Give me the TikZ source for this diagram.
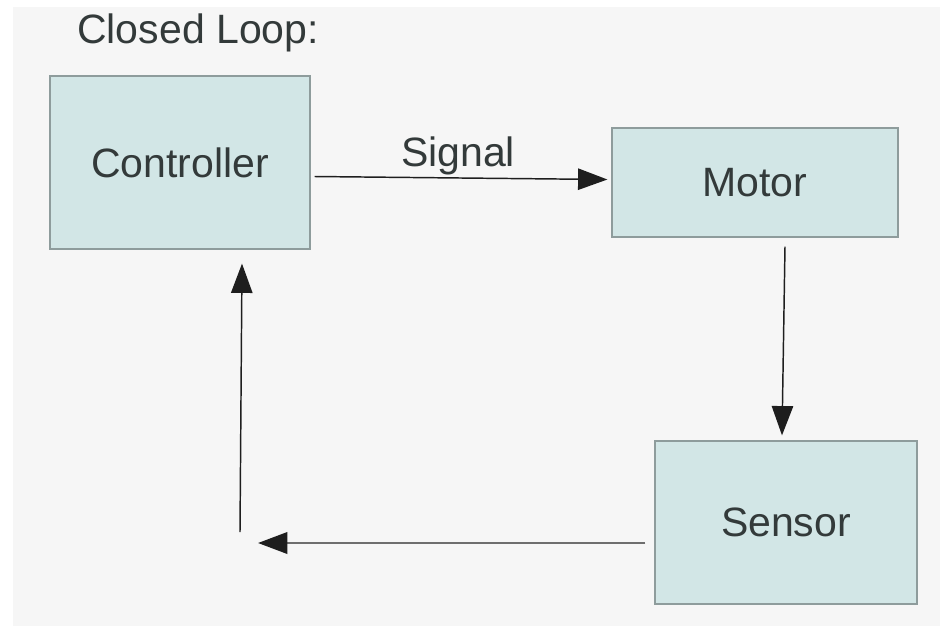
\documentclass[tikz,border=0pt]{standalone}
\usepackage{fontspec}
\setmainfont{Liberation Sans}
\usepackage{xcolor}
\definecolor{boxFill}{HTML}{D2E6E6}
\definecolor{boxLine}{HTML}{8E9C9C}
\definecolor{pageGray}{HTML}{F6F6F6}
\definecolor{darkText}{HTML}{333A3A}
\definecolor{lineDark}{HTML}{1E1E1E}
\definecolor{lineGray}{HTML}{6E6E6E}
\usepackage{tikz}
\usetikzlibrary{
    arrows.meta,
    calc
}
\tikzset{
    % Base style for all labels
    plain base/.style={
        font=\fontsize{30.75}{36}\selectfont,
        text=darkText,
        inner sep=0pt,
    },
    % Block nodes - flat teal rectangle
    block/.style={
        plain base,
        rectangle,
        draw=boxLine,
        line width=0.9pt,
        fill=boxFill,
        align=center,
    },
    % Arrow style - thin dark line, filled triangle tip
    arrow/.style={
        -{Triangle[length=22pt, width=16pt, color=lineDark]},
        line width=1.1pt,
        draw=lineDark,
    },
    % Feedback return line, a bit heavier and grey
    arrow back/.style={
        arrow,
        draw=lineGray,
        line width=2pt,
    },
}
\begin{document}
\begin{tikzpicture}[x=0.75pt, y=-0.75pt]
    % page and margins
    \fill [white] (0,0) rectangle (940,626);
    \fill [pageGray] (13,7) rectangle (940,626);
    \useasboundingbox (0,0) rectangle (940,626);

    \node (title) [plain base, anchor=base west] at (77,43) {Closed Loop:};

    \node (controller) [block, minimum width=195pt, minimum height=129.75pt] at (180,162.5) {Controller};
    \node (motor) [block, minimum width=214.5pt, minimum height=81.75pt] at (755,182.5) {Motor};
    \node (sensor) [block, minimum width=196.5pt, minimum height=122.25pt] at (786,522.5) {Sensor};

    \coordinate (fbin) at (258,543);
    \coordinate (fbout) at (240,532);

    \draw [arrow] ($(controller.east)+(4,14)$) -- ($(motor.west)+(-4,-3)$);
    \node (signal) [plain base, anchor=base] at (458,166) {Signal};
    \draw [arrow] ($(motor.south)+(30,9)$) -- ($(sensor.north)+(-4,-5)$);
    \draw [arrow back] ($(sensor.west)+(-9,20.5)$) -- (fbin);
    \draw [arrow] (fbout) -- ($(controller.south)+(62,14)$);
\end{tikzpicture}
\end{document}
